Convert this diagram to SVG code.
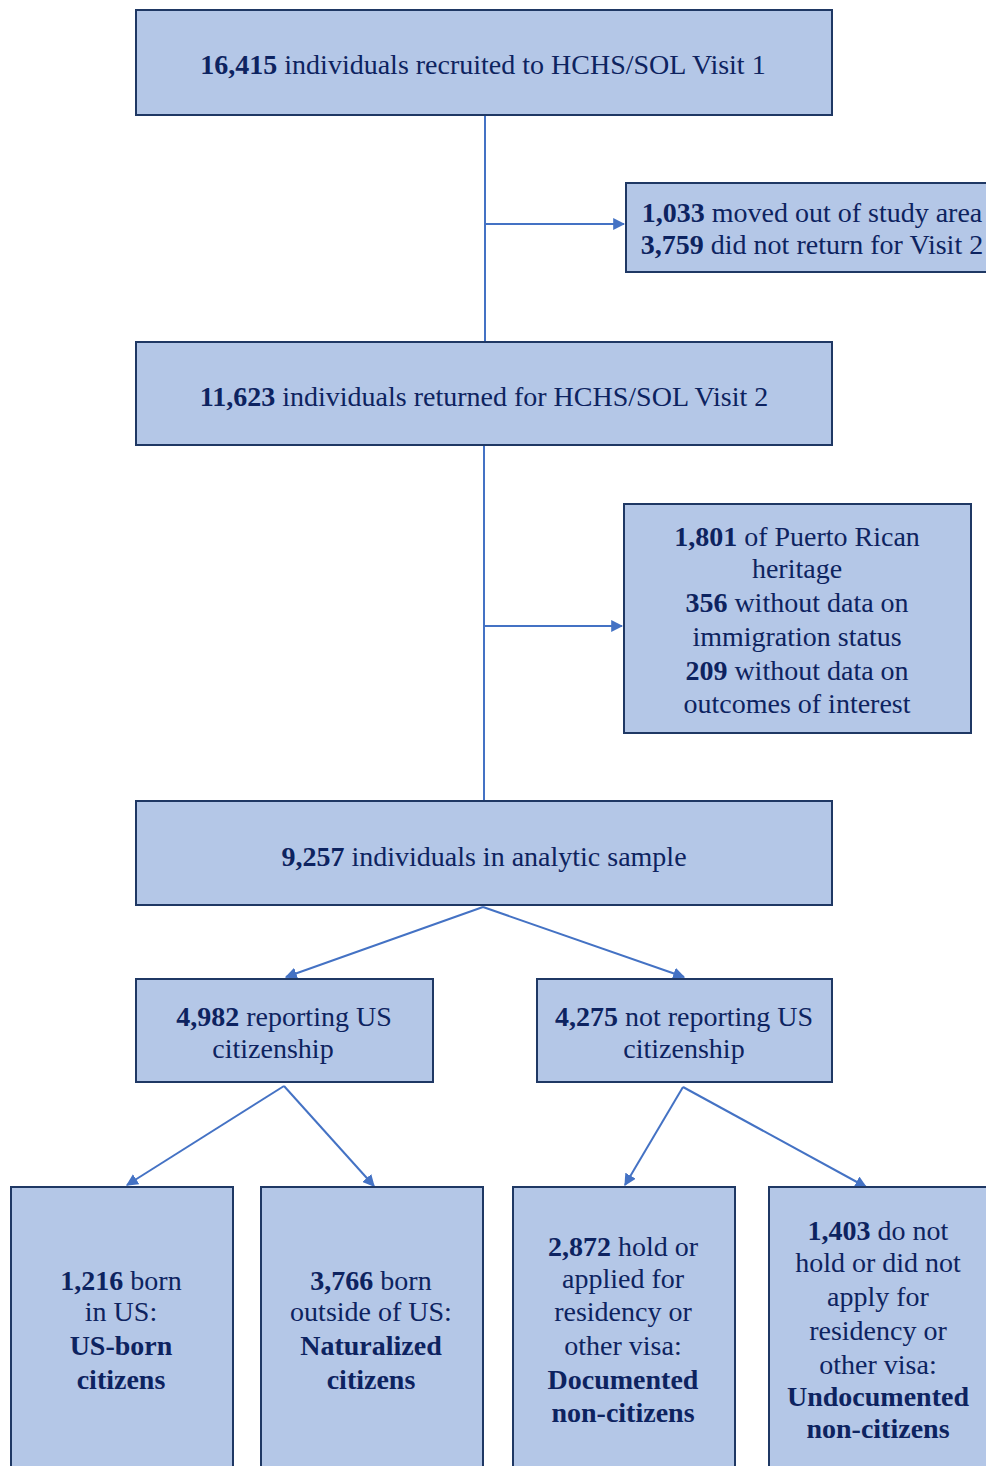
<svg xmlns="http://www.w3.org/2000/svg" width="986" height="1466" viewBox="0 0 986 1466">
<style>
.box{fill:#b4c7e7;stroke:#1f3864;stroke-width:2}
.t{font-family:'Liberation Serif','Times New Roman',serif;font-size:28px;fill:#0d2360;text-anchor:middle}
.b{font-weight:bold}
.c{fill:none;stroke:#4472c4;stroke-width:2}
</style>
<defs>
<marker id="ah" viewBox="0 0 10 10" refX="9" refY="5" markerWidth="6" markerHeight="6" orient="auto" markerUnits="strokeWidth">
<path d="M0,0 L10,5 L0,10 z" fill="#4472c4"/>
</marker>
</defs>
<rect width="986" height="1466" fill="#ffffff"/>
<g id="connectors">
<line class="c" x1="485" y1="115" x2="485" y2="342"/>
<line class="c" x1="485" y1="224" x2="624" y2="224" marker-end="url(#ah)"/>
<line class="c" x1="484" y1="445" x2="484" y2="801"/>
<line class="c" x1="484" y1="626" x2="622" y2="626" marker-end="url(#ah)"/>
<line class="c" x1="483" y1="907" x2="286" y2="977" marker-end="url(#ah)"/>
<line class="c" x1="483" y1="907" x2="684" y2="977" marker-end="url(#ah)"/>
<line class="c" x1="284" y1="1086" x2="127" y2="1185" marker-end="url(#ah)"/>
<line class="c" x1="284" y1="1086" x2="374" y2="1186" marker-end="url(#ah)"/>
<line class="c" x1="683" y1="1087" x2="625" y2="1185" marker-end="url(#ah)"/>
<line class="c" x1="683" y1="1087" x2="866" y2="1187" marker-end="url(#ah)"/>
</g>
<g id="n1">
<rect class="box" x="136" y="10" width="696" height="105"/>
<text class="t" x="483" y="74"><tspan class="b">16,415</tspan> individuals recruited to HCHS/SOL Visit 1</text>
</g>
<g id="n2">
<rect class="box" x="626" y="183" width="380" height="89"/>
<text class="t" x="812" y="222"><tspan class="b">1,033</tspan> moved out of study area</text>
<text class="t" x="812" y="254"><tspan class="b">3,759</tspan> did not return for Visit 2</text>
</g>
<g id="n3">
<rect class="box" x="136" y="342" width="696" height="103"/>
<text class="t" x="484" y="406"><tspan class="b">11,623</tspan> individuals returned for HCHS/SOL Visit 2</text>
</g>
<g id="n4">
<rect class="box" x="624" y="504" width="347" height="229"/>
<text class="t" x="797" y="546"><tspan class="b">1,801</tspan> of Puerto Rican</text>
<text class="t" x="797" y="578">heritage</text>
<text class="t" x="797" y="612"><tspan class="b">356</tspan> without data on</text>
<text class="t" x="797" y="646">immigration status</text>
<text class="t" x="797" y="680"><tspan class="b">209</tspan> without data on</text>
<text class="t" x="797" y="713">outcomes of interest</text>
</g>
<g id="n5">
<rect class="box" x="136" y="801" width="696" height="104"/>
<text class="t" x="484" y="866"><tspan class="b">9,257</tspan> individuals in analytic sample</text>
</g>
<g id="n6">
<rect class="box" x="136" y="979" width="297" height="103"/>
<text class="t" x="284" y="1026"><tspan class="b">4,982</tspan> reporting US</text>
<text class="t" x="273" y="1058">citizenship</text>
</g>
<g id="n7">
<rect class="box" x="537" y="979" width="295" height="103"/>
<text class="t" x="684" y="1026"><tspan class="b">4,275</tspan> not reporting US</text>
<text class="t" x="684" y="1058">citizenship</text>
</g>
<g id="n8">
<rect class="box" x="11" y="1187" width="222" height="300"/>
<text class="t" x="121" y="1290"><tspan class="b">1,216</tspan> born</text>
<text class="t" x="121" y="1321">in US:</text>
<text class="t b" x="121" y="1355">US-born</text>
<text class="t b" x="121" y="1389">citizens</text>
</g>
<g id="n9">
<rect class="box" x="261" y="1187" width="222" height="300"/>
<text class="t" x="371" y="1290"><tspan class="b">3,766</tspan> born</text>
<text class="t" x="371" y="1321">outside of US:</text>
<text class="t b" x="371" y="1355">Naturalized</text>
<text class="t b" x="371" y="1389">citizens</text>
</g>
<g id="n10">
<rect class="box" x="513" y="1187" width="222" height="300"/>
<text class="t" x="623" y="1256"><tspan class="b">2,872</tspan> hold or</text>
<text class="t" x="623" y="1288">applied for</text>
<text class="t" x="623" y="1321">residency or</text>
<text class="t" x="623" y="1355">other visa:</text>
<text class="t b" x="623" y="1389">Documented</text>
<text class="t b" x="623" y="1422">non-citizens</text>
</g>
<g id="n11">
<rect class="box" x="769" y="1187" width="240" height="300"/>
<text class="t" x="878" y="1240"><tspan class="b">1,403</tspan> do not</text>
<text class="t" x="878" y="1272">hold or did not</text>
<text class="t" x="878" y="1306">apply for</text>
<text class="t" x="878" y="1340">residency or</text>
<text class="t" x="878" y="1374">other visa:</text>
<text class="t b" x="878" y="1406">Undocumented</text>
<text class="t b" x="878" y="1438">non-citizens</text>
</g>
</svg>
